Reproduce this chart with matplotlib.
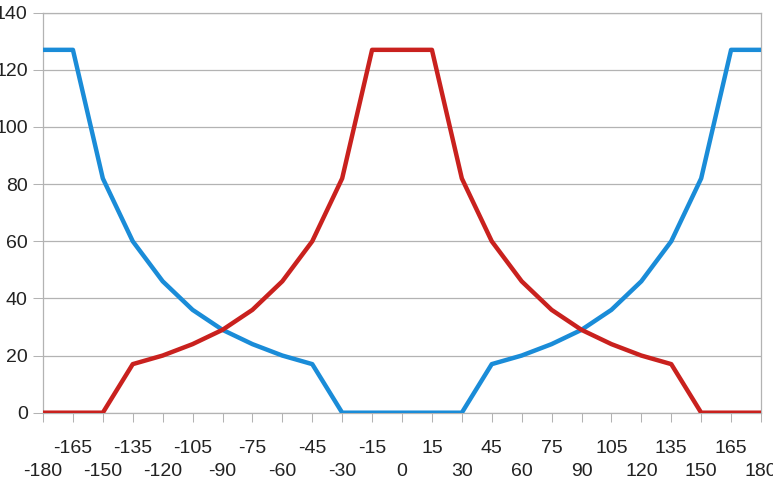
import matplotlib
matplotlib.use('Agg')
import matplotlib.pyplot as plt

# ─── DONNÉES ──────────────────────────────────────────────────────────────────
angles = [-180, -165, -150, -135, -120, -105, -90, -75, -60, -45, -30, -15, 0,
          15, 30, 45, 60, 75, 90, 105, 120, 135, 150, 165, 180]
serie_bleue = [127, 127, 82, 60, 46, 36, 29, 24, 20, 17, 0, 0, 0,
               0, 0, 17, 20, 24, 29, 36, 46, 60, 82, 127, 127]
serie_rouge = [0, 0, 0, 17, 20, 24, 29, 36, 46, 60, 82, 127, 127,
               127, 82, 60, 46, 36, 29, 24, 20, 17, 0, 0, 0]
y_ticks = [0, 20, 40, 60, 80, 100, 120, 140]

BLEU = '#1a8cd8'
ROUGE = '#c9211e'
GRIS = '#b3b3b3'
TEXTE = '#222222'

plt.rcParams['font.family'] = ['Liberation Sans', 'DejaVu Sans']

# ─── FIGURE ───────────────────────────────────────────────────────────────────
fig = plt.figure(figsize=(7.73, 4.8), dpi=100)
ax = fig.add_axes([43 / 773, 1 - 412.7 / 480, 718 / 773, 400 / 480])

ax.plot(angles, serie_bleue, color=BLEU, linewidth=3.2, solid_joinstyle='round', zorder=3)
ax.plot(angles, serie_rouge, color=ROUGE, linewidth=3.2, solid_joinstyle='round', zorder=3)

ax.set_xlim(-180, 180)
ax.set_ylim(0, 140)

# étiquettes de l'axe X sur deux rangées (style tableur)
ax.set_xticks(angles[::2], [str(a) for a in angles[::2]])
ax.set_xticks(angles[1::2], [str(a) for a in angles[1::2]], minor=True)
ax.tick_params(axis='x', which='major', length=6.5, width=0.75, color=GRIS,
               pad=30, labelsize=14, labelcolor=TEXTE)
ax.tick_params(axis='x', which='minor', length=6.5, width=0.75, color=GRIS,
               pad=13, labelsize=14, labelcolor=TEXTE)

ax.set_yticks(y_ticks, [str(v) for v in y_ticks])
ax.tick_params(axis='y', length=7, width=0.75, color=GRIS, pad=4, labelsize=14,
               labelcolor=TEXTE)

ax.yaxis.grid(True, color=GRIS, linewidth=0.9)
ax.set_axisbelow(True)

for cote in ['left', 'bottom', 'right', 'top']:
    ax.spines[cote].set_color(GRIS)
    ax.spines[cote].set_linewidth(0.9)

fig.savefig('out.png', dpi=100)
plt.close(fig)
